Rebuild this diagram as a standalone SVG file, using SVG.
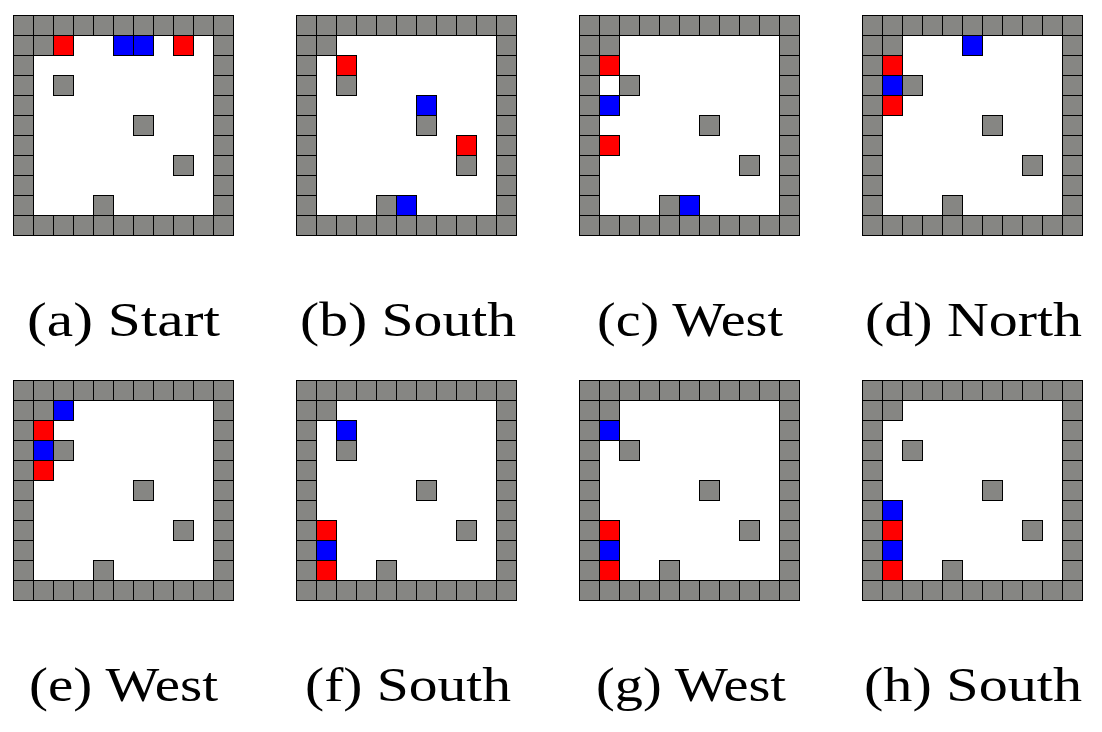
<svg xmlns="http://www.w3.org/2000/svg" xmlns:xlink="http://www.w3.org/1999/xlink" width="1102" height="732" viewBox="0 0 1102 732">
<style>
rect{stroke:#000;stroke-width:1}
.g{fill:#868683}
.r{fill:#ff0000}
.b{fill:#0000ff}
text{font-family:"Liberation Serif","Times New Roman",serif;font-size:48px;fill:#000;text-anchor:middle}
</style>
<defs>
<g id="board">
<rect class="g" x="0" y="0" width="20" height="20"/><rect class="g" x="20" y="0" width="20" height="20"/><rect class="g" x="40" y="0" width="20" height="20"/><rect class="g" x="60" y="0" width="20" height="20"/><rect class="g" x="80" y="0" width="20" height="20"/><rect class="g" x="100" y="0" width="20" height="20"/><rect class="g" x="120" y="0" width="20" height="20"/><rect class="g" x="140" y="0" width="20" height="20"/><rect class="g" x="160" y="0" width="20" height="20"/><rect class="g" x="180" y="0" width="20" height="20"/><rect class="g" x="200" y="0" width="20" height="20"/>
<rect class="g" x="0" y="200" width="20" height="20"/><rect class="g" x="20" y="200" width="20" height="20"/><rect class="g" x="40" y="200" width="20" height="20"/><rect class="g" x="60" y="200" width="20" height="20"/><rect class="g" x="80" y="200" width="20" height="20"/><rect class="g" x="100" y="200" width="20" height="20"/><rect class="g" x="120" y="200" width="20" height="20"/><rect class="g" x="140" y="200" width="20" height="20"/><rect class="g" x="160" y="200" width="20" height="20"/><rect class="g" x="180" y="200" width="20" height="20"/><rect class="g" x="200" y="200" width="20" height="20"/>
<rect class="g" x="0" y="20" width="20" height="20"/><rect class="g" x="0" y="40" width="20" height="20"/><rect class="g" x="0" y="60" width="20" height="20"/><rect class="g" x="0" y="80" width="20" height="20"/><rect class="g" x="0" y="100" width="20" height="20"/><rect class="g" x="0" y="120" width="20" height="20"/><rect class="g" x="0" y="140" width="20" height="20"/><rect class="g" x="0" y="160" width="20" height="20"/><rect class="g" x="0" y="180" width="20" height="20"/>
<rect class="g" x="200" y="20" width="20" height="20"/><rect class="g" x="200" y="40" width="20" height="20"/><rect class="g" x="200" y="60" width="20" height="20"/><rect class="g" x="200" y="80" width="20" height="20"/><rect class="g" x="200" y="100" width="20" height="20"/><rect class="g" x="200" y="120" width="20" height="20"/><rect class="g" x="200" y="140" width="20" height="20"/><rect class="g" x="200" y="160" width="20" height="20"/><rect class="g" x="200" y="180" width="20" height="20"/>
<rect class="g" x="20" y="20" width="20" height="20"/>
<rect class="g" x="40" y="60" width="20" height="20"/>
<rect class="g" x="120" y="100" width="20" height="20"/>
<rect class="g" x="160" y="140" width="20" height="20"/>
<rect class="g" x="80" y="180" width="20" height="20"/>
</g>
</defs>

<g id="panel-a" transform="translate(13.5,15.5)">
<use xlink:href="#board" href="#board"/>
<rect class="r" x="40" y="20" width="20" height="20"/><rect class="b" x="100" y="20" width="20" height="20"/><rect class="b" x="120" y="20" width="20" height="20"/><rect class="r" x="160" y="20" width="20" height="20"/>
</g>
<g id="panel-b" transform="translate(296.5,15.5)">
<use xlink:href="#board" href="#board"/>
<rect class="r" x="40" y="40" width="20" height="20"/><rect class="b" x="120" y="80" width="20" height="20"/><rect class="r" x="160" y="120" width="20" height="20"/><rect class="b" x="100" y="180" width="20" height="20"/>
</g>
<g id="panel-c" transform="translate(579.5,15.5)">
<use xlink:href="#board" href="#board"/>
<rect class="r" x="20" y="40" width="20" height="20"/><rect class="b" x="20" y="80" width="20" height="20"/><rect class="r" x="20" y="120" width="20" height="20"/><rect class="b" x="100" y="180" width="20" height="20"/>
</g>
<g id="panel-d" transform="translate(862.5,15.5)">
<use xlink:href="#board" href="#board"/>
<rect class="b" x="100" y="20" width="20" height="20"/><rect class="r" x="20" y="40" width="20" height="20"/><rect class="b" x="20" y="60" width="20" height="20"/><rect class="r" x="20" y="80" width="20" height="20"/>
</g>
<g id="panel-e" transform="translate(13.5,380.5)">
<use xlink:href="#board" href="#board"/>
<rect class="b" x="40" y="20" width="20" height="20"/><rect class="r" x="20" y="40" width="20" height="20"/><rect class="b" x="20" y="60" width="20" height="20"/><rect class="r" x="20" y="80" width="20" height="20"/>
</g>
<g id="panel-f" transform="translate(296.5,380.5)">
<use xlink:href="#board" href="#board"/>
<rect class="b" x="40" y="40" width="20" height="20"/><rect class="r" x="20" y="140" width="20" height="20"/><rect class="b" x="20" y="160" width="20" height="20"/><rect class="r" x="20" y="180" width="20" height="20"/>
</g>
<g id="panel-g" transform="translate(579.5,380.5)">
<use xlink:href="#board" href="#board"/>
<rect class="b" x="20" y="40" width="20" height="20"/><rect class="r" x="20" y="140" width="20" height="20"/><rect class="b" x="20" y="160" width="20" height="20"/><rect class="r" x="20" y="180" width="20" height="20"/>
</g>
<g id="panel-h" transform="translate(862.5,380.5)">
<use xlink:href="#board" href="#board"/>
<rect class="b" x="20" y="120" width="20" height="20"/><rect class="r" x="20" y="140" width="20" height="20"/><rect class="b" x="20" y="160" width="20" height="20"/><rect class="r" x="20" y="180" width="20" height="20"/>
</g>

<g id="labels">
<text x="123.5" y="336" textLength="193" lengthAdjust="spacingAndGlyphs">(a) Start</text>
<text x="408" y="336" textLength="216" lengthAdjust="spacingAndGlyphs">(b) South</text>
<text x="690" y="336" textLength="186" lengthAdjust="spacingAndGlyphs">(c) West</text>
<text x="973.5" y="336" textLength="217" lengthAdjust="spacingAndGlyphs">(d) North</text>
<text x="123.5" y="701" textLength="189" lengthAdjust="spacingAndGlyphs">(e) West</text>
<text x="408" y="701" textLength="206" lengthAdjust="spacingAndGlyphs">(f) South</text>
<text x="691" y="701" textLength="190" lengthAdjust="spacingAndGlyphs">(g) West</text>
<text x="973" y="701" textLength="218" lengthAdjust="spacingAndGlyphs">(h) South</text>
</g>
</svg>
